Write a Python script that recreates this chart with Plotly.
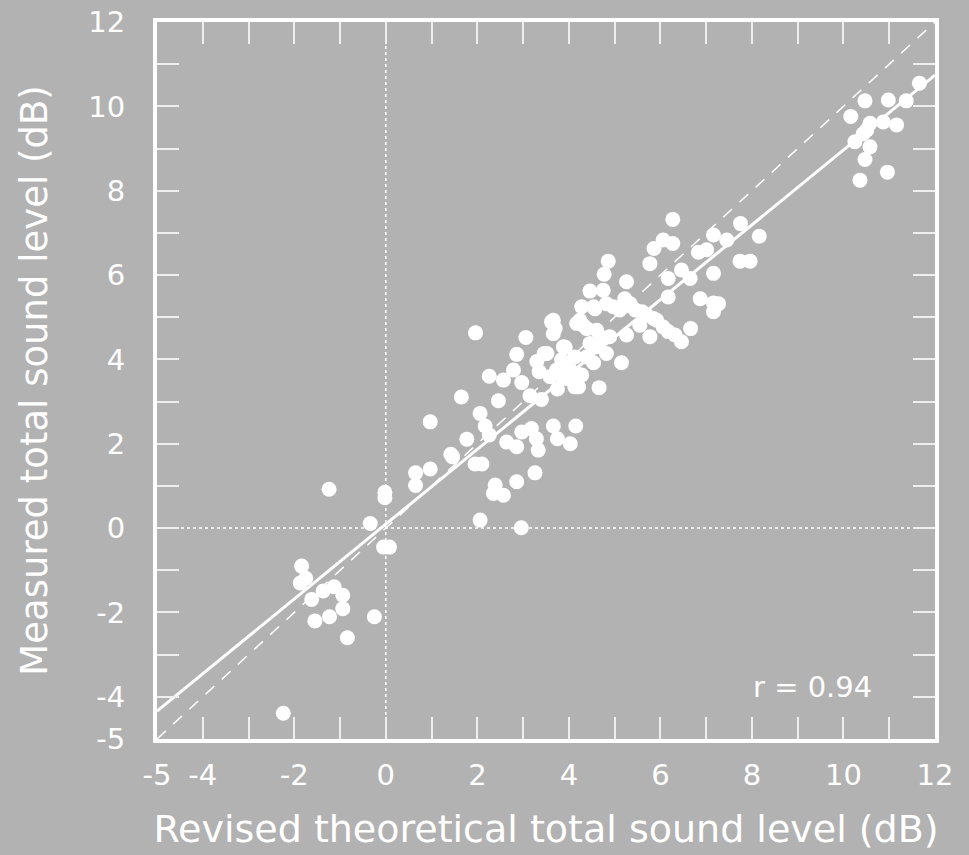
import plotly.graph_objects as go

# Data
x_vals = [-2.24, -1.84, -1.75, -1.87, -1.62, -1.37, -1.13, -0.94, -0.94, -1.23, -1.55, -0.84, -0.25,
          -0.05, 0.08, -1.24, -0.34, -0.02, -0.02, 0.65, 0.65, 0.97, 1.46, 1.42, 1.77, 0.97, 1.65, 1.96,
          2.06, 2.17, 2.26, 1.95, 2.10, 2.06, 2.96, 2.39, 2.35, 2.57, 2.86, 3.26, 2.46, 2.26, 2.57, 3.06,
          2.64, 2.86, 2.97, 3.18, 3.29, 3.33, 3.66, 3.75, 4.03, 4.15, 2.86, 3.46, 3.15,
          2.79, 2.97, 3.35, 3.59, 3.73, 3.84, 3.92, 3.62, 3.70, 4.28, 4.46, 4.75, 4.86, 4.77, 5.26, 5.22,
          4.17, 4.31, 4.39, 4.54, 4.82, 4.97, 5.11, 5.34, 5.45, 5.60, 5.70, 5.85, 6.06, 6.17, 6.32, 6.46,
          6.66, 5.77, 5.55, 5.26, 5.15, 4.66, 4.89, 4.82, 4.61, 4.46, 4.39, 4.17, 4.21, 4.54, 5.77, 5.86,
          6.06, 6.27, 6.27, 6.17, 6.17, 6.46, 6.65, 6.87, 7.16, 7.16, 7.16, 6.83, 7.01, 7.16, 7.45, 7.75,
          8.16, 7.74, 7.96,
          3.66, 3.66, 4.24, 4.61, 3.88, 3.52, 4.13, 3.81, 4.10, 4.28, 4.13, 4.64, 5.92, 7.27, 5.19, 4.57,
          3.40, 3.75, 3.95, 4.00, 3.30,
          11.66, 11.37, 10.98, 10.47, 10.16, 10.58, 10.51, 10.87, 11.16, 10.25, 10.43, 10.58, 10.47,
          10.96, 10.36]
y_vals = [-4.39, -0.90, -1.19, -1.30, -1.69, -1.49, -1.39, -1.59, -1.91, -2.10, -2.20, -2.60, -2.10,
          -0.45, -0.45, 0.92, 0.11, 0.72, 0.85, 1.31, 1.01, 1.40, 1.69, 1.75, 2.11, 2.52, 3.11, 4.63,
          2.72, 2.42, 2.21, 1.52, 1.52, 0.19, 0.01, 1.02, 0.82, 0.78, 1.10, 1.31, 3.02, 3.60, 3.51, 4.52,
          2.04, 1.93, 2.28, 2.36, 2.12, 1.85, 2.42, 2.12, 2.00, 2.42, 4.12, 4.14, 3.14,
          3.75, 3.45, 3.71, 3.59, 3.75, 3.99, 4.29, 4.89, 4.73, 5.25, 5.62, 5.64, 6.33, 6.02, 5.84, 5.44,
          4.85, 4.81, 4.73, 5.25, 5.32, 5.25, 5.17, 5.32, 5.17, 5.13, 5.05, 4.97, 4.77, 4.66, 4.58, 4.42,
          4.73, 4.54, 4.81, 4.58, 3.92, 3.33, 4.54, 4.14, 4.30, 4.38, 4.06, 3.67, 3.35, 3.92, 6.27, 6.63,
          6.83, 6.75, 7.32, 5.92, 5.48, 6.12, 5.92, 5.44, 6.04, 5.34, 5.13, 6.54, 6.60, 6.95, 6.83, 7.22,
          6.92, 6.33, 6.33,
          4.93, 4.61, 4.93, 4.69, 4.30, 4.14, 4.06, 3.63, 3.59, 3.63, 3.35, 4.42, 4.93, 5.32, 5.25, 5.20,
          3.05, 3.30, 3.55, 3.80, 3.95,
          10.55, 10.13, 10.15, 10.13, 9.76, 9.60, 9.44, 9.63, 9.56, 9.16, 9.35, 9.04, 8.74,
          8.44, 8.25]

axis_range = [-5, 12]
tick_labels = [-5, -4, -2, 0, 2, 4, 6, 8, 10, 12]
fit_slope = 0.887
fit_intercept = 0.095
r_text = "r = 0.94"
r_pos = (10.67, -3.77)
x_title = "Revised theoretical total sound level (dB)"
y_title = "Measured total sound level (dB)"

BG = "#b2b2b2"
WHITE = "#ffffff"
FONT = "DejaVu Sans"

fig = go.Figure()

# dotted zero lines
fig.add_trace(go.Scatter(x=[0, 0], y=axis_range, mode="lines",
                         line=dict(color=WHITE, width=1.5, dash="dot"), hoverinfo="skip"))
fig.add_trace(go.Scatter(x=axis_range, y=[0, 0], mode="lines",
                         line=dict(color=WHITE, width=1.5, dash="dot"), hoverinfo="skip"))
# identity dashed line
fig.add_trace(go.Scatter(x=axis_range, y=axis_range, mode="lines",
                         line=dict(color=WHITE, width=1.5, dash="12px,10px"), hoverinfo="skip"))
# points
fig.add_trace(go.Scatter(x=x_vals, y=y_vals, mode="markers",
                         marker=dict(color=WHITE, size=15, line=dict(width=0))))
# regression line
fig.add_trace(go.Scatter(x=axis_range,
                         y=[fit_slope * v + fit_intercept for v in axis_range],
                         mode="lines", line=dict(color=WHITE, width=3), hoverinfo="skip"))

axis_common = dict(
    range=axis_range, showgrid=False, zeroline=False,
    showline=True, linecolor=WHITE, linewidth=4, mirror="ticks",
    ticks="inside", ticklen=22, tickwidth=1.5, tickcolor="#eeeeee",
    tickvals=tick_labels, ticktext=[str(v) for v in tick_labels],
    tickfont=dict(family=FONT, size=29, color=WHITE),
    ticklabeloverflow="allow",
    minor=dict(ticks="inside", ticklen=22, tickwidth=1.5, tickcolor="#eeeeee",
               dtick=1, tick0=0, showgrid=False),
)

fig.update_xaxes(**axis_common, ticklabelstandoff=7,
                 title=dict(text=x_title, standoff=26,
                            font=dict(family=FONT, size=38, color=WHITE)))
fig.update_yaxes(**axis_common, ticklabelstandoff=22,
                 title=dict(text=y_title, standoff=30,
                            font=dict(family=FONT, size=37, color=WHITE)))

fig.add_annotation(x=r_pos[0], y=r_pos[1], xref="x", yref="y", text=r_text, showarrow=False,
                   xanchor="right", yanchor="middle",
                   font=dict(family=FONT, size=29, color=WHITE))

fig.update_layout(
    width=969, height=855,
    paper_bgcolor=BG, plot_bgcolor=BG,
    showlegend=False,
    margin=dict(l=157, r=34, t=22, b=116, autoexpand=False),
)

# remove the default page margin so the figure fills the window exactly
fig.write_html("out.html",
               config={"displayModeBar": False},
               post_script="document.body.style.margin='0';document.body.style.background='#b2b2b2';")
